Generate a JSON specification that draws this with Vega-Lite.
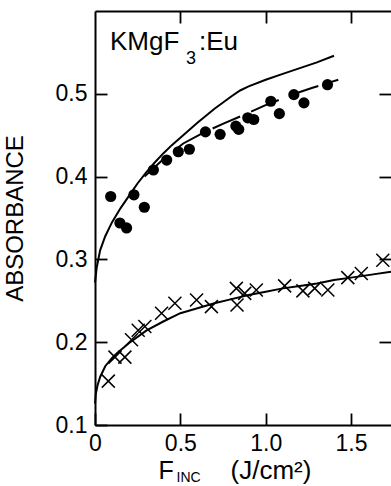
{
  "$schema": "https://vega.github.io/schema/vega-lite/v6.json",
  "width": 296,
  "height": 414,
  "autosize": {"type": "none"},
  "padding": {"left": 95, "top": 11, "right": 0, "bottom": 61},
  "background": "white",
  "config": {
    "view": {"stroke": null},
    "font": "Liberation Sans",
    "axis": {
      "grid": false,
      "ticks": true,
      "domainColor": "black",
      "domainWidth": 2,
      "tickColor": "black",
      "tickOpacity": 1,
      "tickWidth": 1.8,
      "labelColor": "black",
      "labelFont": "Liberation Sans",
      "labelFontSize": 23,
      "titleColor": "black",
      "titleFont": "Liberation Sans",
      "titleFontWeight": "normal"
    }
  },
  "datasets": {
    "upper": [
      {"f": 0, "a": 0.272}, {"f": 0.01, "a": 0.29}, {"f": 0.03, "a": 0.311}, {"f": 0.06, "a": 0.328},
      {"f": 0.1, "a": 0.345}, {"f": 0.15, "a": 0.362}, {"f": 0.2, "a": 0.377}, {"f": 0.25, "a": 0.392},
      {"f": 0.3, "a": 0.405}, {"f": 0.35, "a": 0.417}, {"f": 0.4, "a": 0.428}, {"f": 0.45, "a": 0.438},
      {"f": 0.5, "a": 0.447}, {"f": 0.55, "a": 0.456}, {"f": 0.6, "a": 0.465}, {"f": 0.7, "a": 0.482},
      {"f": 0.8, "a": 0.497}, {"f": 0.85, "a": 0.504}, {"f": 0.9, "a": 0.509}, {"f": 1.0, "a": 0.517},
      {"f": 1.1, "a": 0.524}, {"f": 1.2, "a": 0.531}, {"f": 1.3, "a": 0.538}, {"f": 1.4, "a": 0.546}
    ],
    "fit": [
      {"f": 0.29, "a": 0.4}, {"f": 0.4, "a": 0.421}, {"f": 0.517, "a": 0.44}, {"f": 0.625, "a": 0.452},
      {"f": 0.752, "a": 0.464}, {"f": 0.889, "a": 0.476}, {"f": 0.996, "a": 0.486}, {"f": 1.17, "a": 0.5},
      {"f": 1.27, "a": 0.507}, {"f": 1.425, "a": 0.517}
    ],
    "lower": [
      {"f": 0, "a": 0.126}, {"f": 0.005, "a": 0.138}, {"f": 0.015, "a": 0.148}, {"f": 0.03, "a": 0.158},
      {"f": 0.06, "a": 0.171}, {"f": 0.1, "a": 0.181}, {"f": 0.13, "a": 0.187}, {"f": 0.2, "a": 0.199},
      {"f": 0.3, "a": 0.214}, {"f": 0.4, "a": 0.225}, {"f": 0.5, "a": 0.235}, {"f": 0.6, "a": 0.241},
      {"f": 0.7, "a": 0.247}, {"f": 0.8, "a": 0.252}, {"f": 0.9, "a": 0.257}, {"f": 1.0, "a": 0.261},
      {"f": 1.1, "a": 0.265}, {"f": 1.2, "a": 0.268}, {"f": 1.3, "a": 0.271}, {"f": 1.4, "a": 0.275},
      {"f": 1.5, "a": 0.278}, {"f": 1.6, "a": 0.281}, {"f": 1.734, "a": 0.285}
    ],
    "dots": [
      {"f": 0.092, "a": 0.376}, {"f": 0.146, "a": 0.344}, {"f": 0.185, "a": 0.338}, {"f": 0.228, "a": 0.378},
      {"f": 0.289, "a": 0.363}, {"f": 0.342, "a": 0.408}, {"f": 0.42, "a": 0.42}, {"f": 0.488, "a": 0.43},
      {"f": 0.553, "a": 0.433}, {"f": 0.647, "a": 0.454}, {"f": 0.733, "a": 0.451}, {"f": 0.825, "a": 0.461},
      {"f": 0.842, "a": 0.457}, {"f": 0.895, "a": 0.471}, {"f": 0.93, "a": 0.469}, {"f": 1.03, "a": 0.491},
      {"f": 1.08, "a": 0.476}, {"f": 1.165, "a": 0.499}, {"f": 1.224, "a": 0.489}, {"f": 1.362, "a": 0.511}
    ],
    "crosses": [
      {"f": 0.078, "a": 0.153}, {"f": 0.117, "a": 0.182}, {"f": 0.175, "a": 0.182}, {"f": 0.214, "a": 0.203},
      {"f": 0.253, "a": 0.2145}, {"f": 0.292, "a": 0.219}, {"f": 0.39, "a": 0.235}, {"f": 0.468, "a": 0.247},
      {"f": 0.595, "a": 0.251}, {"f": 0.682, "a": 0.243}, {"f": 0.828, "a": 0.265}, {"f": 0.832, "a": 0.245},
      {"f": 0.877, "a": 0.259}, {"f": 0.945, "a": 0.263}, {"f": 1.111, "a": 0.268}, {"f": 1.218, "a": 0.262},
      {"f": 1.287, "a": 0.265}, {"f": 1.364, "a": 0.263}, {"f": 1.481, "a": 0.278}, {"f": 1.56, "a": 0.283},
      {"f": 1.686, "a": 0.299}
    ],
    "bigtext": [
      {"f": 0.088, "a": 0.553, "t": "KMgF"},
      {"f": 0.609, "a": 0.553, "t": ":Eu"}
    ],
    "subtext": [
      {"f": 0.533, "a": 0.536, "t": "3", "s": "big"},
      {"f": 0.478, "a": 0.031, "t": "INC", "s": "small"}
    ]
  },
  "resolve": {"axis": {"x": "independent", "y": "independent"}},
  "layer": [
    {
      "data": {"name": "lower"},
      "mark": {"type": "line", "color": "black", "strokeWidth": 2},
      "encoding": {
        "x": {
          "field": "f", "type": "quantitative",
          "scale": {"domain": [0, 1.734], "nice": false, "zero": false},
          "axis": {
            "orient": "bottom", "values": [0, 0.5, 1, 1.5], "offset": -12, "tickSize": 12, "domain": false,
            "labelExpr": "datum.value === 0 ? '0' : format(datum.value, '.1f')",
            "labelPadding": 7, "labelFlush": false, "labelOverlap": false, "title": null
          }
        },
        "y": {
          "field": "a", "type": "quantitative",
          "scale": {"domain": [0.1, 0.6], "nice": false, "zero": false},
          "axis": {
            "orient": "left", "values": [0.1, 0.2, 0.3, 0.4, 0.5], "format": ".1f", "offset": -12, "tickSize": 12, "domain": false,
            "labelPadding": 8, "labelFlush": false, "labelOverlap": false, "title": null
          }
        }
      }
    },
    {
      "data": {"name": "upper"},
      "mark": {"type": "line", "color": "black", "strokeWidth": 2},
      "encoding": {
        "x": {
          "field": "f", "type": "quantitative",
          "axis": {"orient": "top", "values": [0.5, 1, 1.5], "offset": -12, "tickSize": 12, "labels": false, "title": null, "domain": false}
        },
        "y": {
          "field": "a", "type": "quantitative",
          "axis": {"orient": "right", "values": [0.2, 0.3, 0.4, 0.5], "offset": -12, "tickSize": 12, "labels": false, "title": null, "domain": false}
        }
      }
    },
    {
      "data": {"name": "fit"},
      "mark": {"type": "line", "color": "black", "strokeWidth": 2, "strokeDash": [30, 12]},
      "encoding": {
        "x": {
          "field": "f", "type": "quantitative",
          "axis": {
            "orient": "bottom", "ticks": false, "labels": false, "domain": true,
            "title": "F", "titleFontSize": 25,
            "titleAnchor": "start", "titleAlign": "left", "titleX": 63, "titleY": 53, "titleBaseline": "alphabetic"
          }
        },
        "y": {
          "field": "a", "type": "quantitative",
          "axis": {
            "orient": "left", "ticks": false, "labels": false, "domain": true,
            "title": "ABSORBANCE", "titleFontSize": 24, "titlePadding": 68
          }
        }
      }
    },
    {
      "data": {"name": "dots"},
      "mark": {"type": "point", "shape": "circle", "filled": true, "color": "black", "opacity": 1, "size": 125},
      "encoding": {
        "x": {
          "field": "f", "type": "quantitative",
          "axis": {"orient": "top", "ticks": false, "labels": false, "domain": true, "title": null}
        },
        "y": {"field": "a", "type": "quantitative", "axis": null}
      }
    },
    {
      "data": {"name": "crosses"},
      "mark": {"type": "point", "shape": "M-1,-1L1,1M-1,1L1,-1", "filled": false, "color": "black", "opacity": 1, "strokeWidth": 1.5, "size": 169},
      "encoding": {
        "x": {
          "field": "f", "type": "quantitative",
          "axis": {
            "orient": "bottom", "ticks": false, "labels": false, "domain": false,
            "title": "(J/cm²)", "titleFontSize": 26,
            "titleAnchor": "start", "titleAlign": "left", "titleX": 135, "titleY": 53, "titleBaseline": "alphabetic"
          }
        },
        "y": {"field": "a", "type": "quantitative", "axis": null}
      }
    },
    {
      "data": {"name": "bigtext"},
      "mark": {"type": "text", "color": "black", "font": "Liberation Sans", "fontSize": 26, "align": "left", "baseline": "alphabetic", "clip": false},
      "encoding": {
        "x": {"field": "f", "type": "quantitative", "axis": null},
        "y": {"field": "a", "type": "quantitative", "axis": null},
        "text": {"field": "t"}
      }
    },
    {
      "data": {"name": "subtext"},
      "mark": {"type": "text", "color": "black", "font": "Liberation Sans", "align": "left", "baseline": "alphabetic", "clip": false},
      "encoding": {
        "x": {"field": "f", "type": "quantitative", "axis": null},
        "y": {"field": "a", "type": "quantitative", "axis": null},
        "text": {"field": "t"},
        "size": {"field": "s", "type": "nominal", "scale": {"domain": ["big", "small"], "range": [18, 14]}, "legend": null}
      }
    }
  ]
}
